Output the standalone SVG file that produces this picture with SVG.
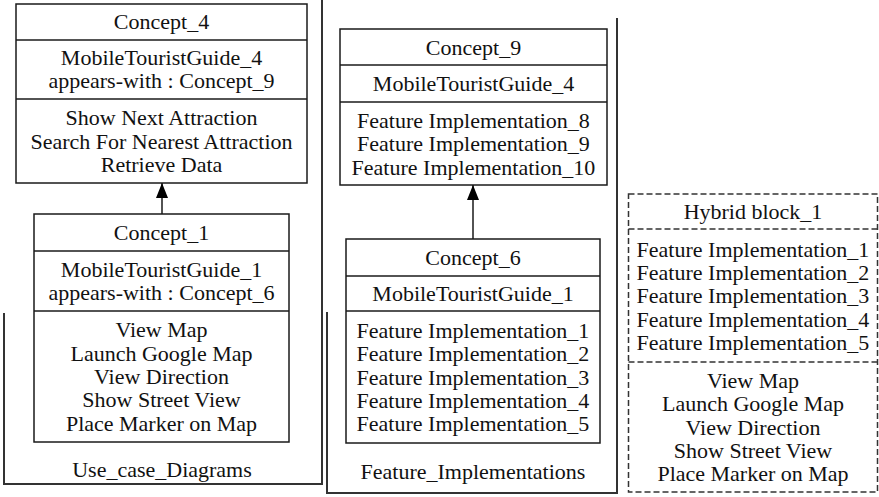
<svg xmlns="http://www.w3.org/2000/svg" width="879" height="497" viewBox="0 0 879 497">
<style>
text{font-family:"Liberation Serif","Times New Roman",serif;font-size:22px;fill:#111;text-anchor:middle}
.b{fill:#fff;stroke:#1a1a1a;stroke-width:1.5}
.l{stroke:#1a1a1a;stroke-width:1.5;fill:none}
.f{stroke:#333;stroke-width:2;fill:none}
.d{stroke:#333;stroke-width:1.5;fill:none;stroke-dasharray:6 3}
</style>
<defs>
<marker id="ah" markerWidth="15" markerHeight="12" refX="15" refY="6" orient="auto" markerUnits="userSpaceOnUse" viewBox="0 0 15 12">
<path d="M0,0 L15,6 L0,12 Z" fill="#000"/>
</marker>
</defs>
<rect width="879" height="497" fill="#fff"/>
<g id="frame_usecase">
<polyline class="f" points="4,313 4,484 322,484 322,0"/>
<text x="162" y="477">Use_case_Diagrams</text>
</g>
<g id="frame_feature">
<polyline class="f" points="327,312 327,493 617,493 617,18"/>
<text x="473" y="479">Feature_Implementations</text>
</g>
<g id="concept4">
<rect class="b" x="16" y="4" width="291" height="179"/>
<line class="l" x1="16" y1="40" x2="307" y2="40"/>
<line class="l" x1="16" y1="99" x2="307" y2="99"/>
<text x="161.5" y="29">Concept_4</text>
<text x="161.5" y="65">MobileTouristGuide_4</text>
<text x="161.5" y="88">appears-with : Concept_9</text>
<text x="161.5" y="125">Show Next Attraction</text>
<text x="161.5" y="148.5">Search For Nearest Attraction</text>
<text x="161.5" y="172">Retrieve Data</text>
</g>
<g id="concept1">
<rect class="b" x="34" y="214" width="255" height="228"/>
<line class="l" x1="34" y1="251" x2="289" y2="251"/>
<line class="l" x1="34" y1="311" x2="289" y2="311"/>
<text x="161.5" y="240">Concept_1</text>
<text x="161.5" y="277">MobileTouristGuide_1</text>
<text x="161.5" y="300">appears-with : Concept_6</text>
<text x="161.5" y="337">View Map</text>
<text x="161.5" y="361">Launch Google Map</text>
<text x="161.5" y="384">View Direction</text>
<text x="161.5" y="407">Show Street View</text>
<text x="161.5" y="430.5">Place Marker on Map</text>
</g>
<g id="concept9">
<rect class="b" x="340" y="29" width="267" height="156"/>
<line class="l" x1="340" y1="65" x2="607" y2="65"/>
<line class="l" x1="340" y1="102" x2="607" y2="102"/>
<text x="473.5" y="54.5">Concept_9</text>
<text x="473.5" y="91">MobileTouristGuide_4</text>
<text x="473.5" y="128">Feature Implementation_8</text>
<text x="473.5" y="151">Feature Implementation_9</text>
<text x="473.5" y="174.5">Feature Implementation_10</text>
</g>
<g id="concept6">
<rect class="b" x="346" y="239" width="254" height="204"/>
<line class="l" x1="346" y1="276" x2="600" y2="276"/>
<line class="l" x1="346" y1="311" x2="600" y2="311"/>
<text x="473" y="265">Concept_6</text>
<text x="473" y="301">MobileTouristGuide_1</text>
<text x="473" y="338">Feature Implementation_1</text>
<text x="473" y="361">Feature Implementation_2</text>
<text x="473" y="384.5">Feature Implementation_3</text>
<text x="473" y="408">Feature Implementation_4</text>
<text x="473" y="431">Feature Implementation_5</text>
</g>
<g id="hybrid1">
<rect class="d" x="628.5" y="194" width="249" height="298"/>
<line class="d" x1="628.5" y1="229" x2="877.5" y2="229"/>
<line class="d" x1="628.5" y1="362" x2="877.5" y2="362"/>
<text x="753" y="219">Hybrid block_1</text>
<text x="753" y="256.5">Feature Implementation_1</text>
<text x="753" y="280">Feature Implementation_2</text>
<text x="753" y="303">Feature Implementation_3</text>
<text x="753" y="326.5">Feature Implementation_4</text>
<text x="753" y="350">Feature Implementation_5</text>
<text x="753" y="388">View Map</text>
<text x="753" y="411">Launch Google Map</text>
<text x="753" y="434.5">View Direction</text>
<text x="753" y="458">Show Street View</text>
<text x="753" y="481">Place Marker on Map</text>
</g>
<g id="connectors">
<line class="l" x1="162" y1="214" x2="162" y2="183" marker-end="url(#ah)"/>
<line class="l" x1="473" y1="239" x2="473" y2="185" marker-end="url(#ah)"/>
</g>
</svg>
